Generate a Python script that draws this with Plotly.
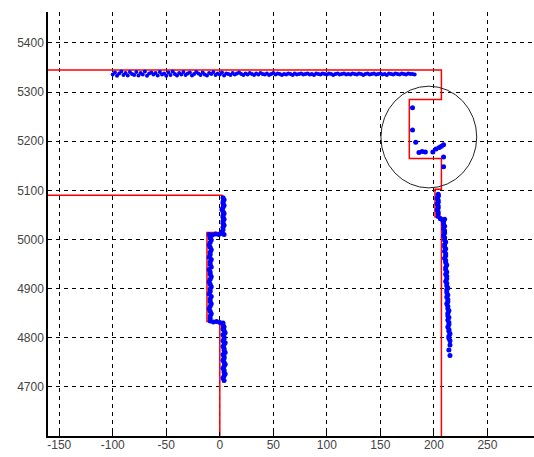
import plotly.graph_objects as go

# Tick labels
x_ticks = [-150, -100, -50, 0, 50, 100, 150, 200, 250]
y_ticks = [4700, 4800, 4900, 5000, 5100, 5200, 5300, 5400]

# Red map outline (two polylines)
map1_x = [-200, 207, 207, 177, 177, 207, 207, 201, 201, 207, 207]
map1_y = [5345, 5345, 5285, 5285, 5165, 5165, 5102, 5102, 5046, 5046, 4550]
map2_x = [-200, 2, 2, -12, -12, 0, 0]
map2_y = [5090, 5090, 5014, 5014, 4833, 4833, 4550]

# Blue scan points
top_x = [-100, -98, -96, -94, -92, -90, -88, -86, -84, -82,
         -80, -78, -76, -74, -72, -70, -68, -66, -64, -62,
         -60, -58, -56, -54, -52, -50, -48, -46, -44, -42,
         -40, -38, -36, -34, -32, -30, -28, -26, -24, -22,
         -20, -18, -16, -14, -12, -10, -8, -6, -4, -2,
         0, 2, 4, 6, 8, 10, 12, 14, 16, 18,
         20, 22, 24, 26, 28, 30, 32, 34, 36, 38,
         40, 42, 44, 46, 48, 50, 52, 54, 56, 58,
         60, 62, 64, 66, 68, 70, 72, 74, 76, 78,
         80, 82, 84, 86, 88, 90, 92, 94, 96, 98,
         100, 102, 104, 106, 108, 110, 112, 114, 116, 118,
         120, 122, 124, 126, 128, 130, 132, 134, 136, 138,
         140, 142, 144, 146, 148, 150, 152, 154, 156, 158,
         160, 162, 164, 166, 168, 170, 172, 174, 176, 178,
         180, 182]
top_y = [5336, 5340, 5333, 5338, 5342, 5335, 5339, 5334, 5341, 5337,
         5335, 5341, 5334, 5339, 5336, 5342, 5333, 5338, 5340, 5336,
         5339, 5334, 5341, 5336, 5338, 5333, 5340, 5335, 5342, 5337,
         5334, 5339, 5336, 5341, 5335, 5338, 5340, 5334, 5337, 5341,
         5338, 5335, 5340, 5336, 5334, 5339, 5337, 5341, 5335, 5338,
         5336, 5340, 5334, 5338, 5337, 5335, 5339, 5336, 5338, 5340,
         5337, 5335, 5338, 5336, 5339, 5337, 5335, 5338, 5336, 5339,
         5337, 5336, 5338, 5335, 5337, 5339, 5336, 5338, 5337, 5335,
         5337, 5336, 5338, 5337, 5335, 5338, 5336, 5337, 5338, 5336,
         5337, 5338, 5336, 5337, 5335, 5338, 5337, 5336, 5338, 5337,
         5336, 5338, 5337, 5335, 5337, 5338, 5336, 5337, 5338, 5336,
         5337, 5336, 5338, 5337, 5336, 5338, 5337, 5335, 5337, 5338,
         5336, 5337, 5338, 5336, 5337, 5338, 5336, 5337, 5335, 5338,
         5337, 5336, 5338, 5337, 5336, 5338, 5337, 5336, 5338, 5337,
         5337, 5336]

left_x = [3, 4, 3, 3, 4, 3, 2, 3, 4, 3, 3, 4, 3, 3, 4, 3, 3, 2,
          -10, -7, -4, -1, 2, 4,
          -9, -8, -9, -10, -9, -8, -9, -9, -10, -8, -9, -9, -8, -10, -9, -9, -8,
          -9, -10, -9, -8, -9, -9, -10, -8, -9, -9, -8, -9, -10, -9, -8, -9, -9,
          -9, -6, -3, 0, 3,
          3, 4, 3, 4, 5, 3, 4, 4, 3, 5, 4, 3, 4, 4, 5, 3, 4, 4, 3, 4, 5, 4, 3, 4, 4,
          5, 4, 3, 4]
left_y = [5085, 5081, 5077, 5073, 5069, 5065, 5061, 5057, 5053, 5049, 5045, 5041, 5037,
          5033, 5029, 5025, 5020, 5015,
          5010, 5009, 5011, 5010, 5012, 5010,
          5004, 4999, 4994, 4989, 4984, 4979, 4974, 4969, 4964, 4959, 4954, 4949, 4944,
          4939, 4934, 4929, 4924, 4919, 4914, 4909, 4904, 4899, 4894, 4889, 4884, 4879,
          4874, 4869, 4864, 4859, 4854, 4849, 4844, 4839,
          4834, 4832, 4833, 4831, 4830,
          4826, 4822, 4818, 4814, 4810, 4806, 4802, 4798, 4794, 4790, 4786, 4782, 4778,
          4774, 4770, 4766, 4762, 4758, 4754, 4750, 4746, 4742, 4738, 4734, 4730, 4726,
          4722, 4718, 4713]

right_x = [204, 204, 203, 204, 204, 203, 204, 204, 203, 204, 204, 204,
           206, 208, 210,
           209, 209, 210, 209, 210, 210, 209, 210, 210, 211, 210, 210, 211, 210, 211,
           211, 210, 211, 211, 212, 211, 211, 212, 211, 212, 212, 211, 212, 212, 213,
           212, 212, 213, 212, 213, 213, 212, 213, 213, 214, 213, 213, 214, 213, 214,
           214, 213, 214, 214, 215, 214, 214, 215, 215, 214, 215]
right_y = [5092, 5088, 5084, 5080, 5076, 5072, 5068, 5064, 5060, 5056, 5052, 5047,
           5042, 5040, 5041,
           5036, 5031, 5027, 5022, 5018, 5013, 5008, 5004, 4999, 4995, 4990, 4985, 4981,
           4976, 4971, 4967, 4962, 4957, 4953, 4948, 4943, 4939, 4934, 4929, 4925, 4920,
           4915, 4911, 4906, 4901, 4897, 4892, 4887, 4883, 4878, 4873, 4869, 4864, 4859,
           4855, 4850, 4845, 4841, 4836, 4831, 4827, 4822, 4817, 4813, 4808, 4803, 4799,
           4794, 4785, 4775, 4764]

circle_x = [180, 180, 183, 186, 189, 192, 199, 202, 205, 207, 209, 209, 209, 204]
circle_y = [5268, 5223, 5198, 5177, 5179, 5178, 5178, 5184, 5187, 5190, 5193, 5168, 5148, 5090]

# Highlight circle (data coordinates)
ring_x = [150.5, 240]
ring_y = [5105, 5312]

fig = go.Figure()
fig.add_trace(go.Scatter(x=map1_x, y=map1_y, mode="lines",
                         line=dict(color="#ff0000", width=1.5), showlegend=False))
fig.add_trace(go.Scatter(x=map2_x, y=map2_y, mode="lines",
                         line=dict(color="#ff0000", width=1.5), showlegend=False))
fig.add_trace(go.Scatter(x=top_x, y=top_y, mode="markers",
                         marker=dict(color="#0000ff", size=4, line=dict(width=0)),
                         showlegend=False))
for xs, ys in [(left_x, left_y), (right_x, right_y), (circle_x, circle_y)]:
    fig.add_trace(go.Scatter(x=xs, y=ys, mode="markers",
                             marker=dict(color="#0000ff", size=5, line=dict(width=0)),
                             showlegend=False))

fig.add_shape(type="circle", xref="x", yref="y",
              x0=ring_x[0], x1=ring_x[1], y0=ring_y[0], y1=ring_y[1],
              line=dict(color="#222222", width=1))

axis_common = dict(
    showgrid=True, gridcolor="#000000", gridwidth=1, griddash="4px,4px",
    showline=True, linecolor="#000000", linewidth=1.5,
    ticks="inside", ticklen=4, tickcolor="#000000",
    zeroline=False, automargin=False,
    tickfont=dict(family="Arial", size=12, color="#444444"),
)

fig.update_xaxes(range=[-160.5, 293.5], tickvals=x_ticks, ticktext=[str(v) for v in x_ticks],
                 ticklabelstandoff=-3, **axis_common)
fig.update_yaxes(range=[4600, 5463], tickvals=y_ticks, ticktext=[str(v) for v in y_ticks],
                 **axis_common)

fig.update_layout(
    width=534, height=457,
    margin=dict(l=48, r=0, t=12, b=21),
    paper_bgcolor="#ffffff", plot_bgcolor="#ffffff",
)

fig.write_html("out.html",
               config={"displayModeBar": False},
               post_script="document.body.style.margin='0px';document.body.style.overflow='hidden';")
